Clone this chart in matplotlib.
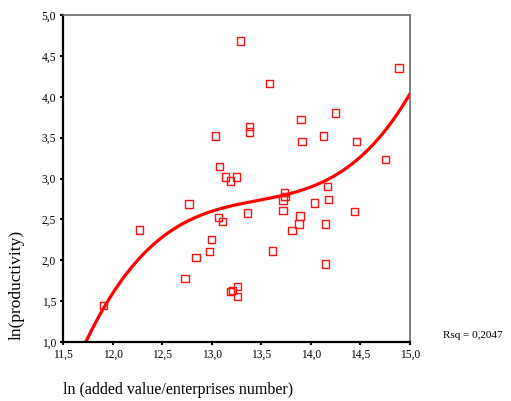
import numpy as np
import matplotlib
matplotlib.use("Agg")
import matplotlib.pyplot as plt

# ln(added value / enterprises number)
x_vals = [13.29, 14.89, 13.58, 13.38, 13.38, 13.04, 13.90, 14.25, 13.91, 14.13,
          14.46, 14.75, 13.08, 13.14, 13.19, 13.25, 12.77, 12.27, 13.07, 13.11,
          13.36, 13.00, 12.98, 12.84, 12.73, 13.26, 13.19, 13.21, 13.26, 11.91,
          13.61, 14.17, 13.735, 13.74, 13.72, 14.035, 14.18, 13.72, 14.44, 13.89,
          13.88, 14.15, 13.81, 14.15]
# ln(productivity)
y_vals = [4.68, 4.35, 4.16, 3.64, 3.57, 3.52, 3.72, 3.80, 3.455, 3.52,
          3.455, 3.23, 3.15, 3.02, 2.97, 3.02, 2.69, 2.37, 2.525, 2.475,
          2.58, 2.25, 2.105, 2.03, 1.78, 1.68, 1.62, 1.63, 1.555, 1.445,
          2.115, 2.90, 2.825, 2.78, 2.735, 2.70, 2.74, 2.605, 2.595, 2.54,
          2.445, 2.445, 2.365, 1.955]

x_ticks = [11.5, 12.0, 12.5, 13.0, 13.5, 14.0, 14.5, 15.0]
y_ticks = [1.0, 1.5, 2.0, 2.5, 3.0, 3.5, 4.0, 4.5, 5.0]
rsq_text = "Rsq = 0,2047"

plt.rcParams['font.family'] = ['Liberation Serif', 'DejaVu Serif']

x = np.array(x_vals)
y = np.array(y_vals)
# cubic fit, as in the original
coef = np.polyfit(x, y, 3)
xs = np.linspace(11.5, 15.0, 300)
ys = np.polyval(coef, xs)

fig = plt.figure(figsize=(5.11, 4.01), dpi=100)
ax = fig.add_axes([63 / 511, 59 / 401, 347 / 511, 327 / 401])

ax.plot(xs, ys, color='#ff0000', lw=2.3, solid_capstyle='round', zorder=2)
ax.scatter(x, y, marker='s', s=28, facecolors='none', edgecolors='#ff1010',
           linewidths=1.0, zorder=3)

ax.set_xlim(11.5, 15.0)
ax.set_ylim(1.0, 5.0)
ax.set_xticks(x_ticks)
ax.set_yticks(y_ticks)
ax.set_xticklabels([f"{v:.1f}".replace('.', ',') for v in x_ticks], fontsize=8.3)
ax.set_yticklabels([f"{v:.1f}".replace('.', ',') for v in y_ticks], fontsize=8.3)
ax.tick_params(direction='out', length=2, width=1.5, color='black', pad=3)

for side in ['left', 'bottom']:
    ax.spines[side].set_color('black')
    ax.spines[side].set_linewidth(1.6)
for side in ['top', 'right']:
    ax.spines[side].set_color('#666666')
    ax.spines[side].set_linewidth(1.2)

ax.set_ylabel("ln(productivity)", fontsize=12.5)
ax.yaxis.set_label_coords(-0.11, 0.174)
fig.text(63 / 511, 1 - 390 / 401, "ln (added value/enterprises number)",
         fontsize=11.5, ha='left', va='center')
fig.text(443 / 511, 1 - 336 / 401, rsq_text, fontsize=8, ha='left', va='center')

fig.savefig('out.png', dpi=100)
